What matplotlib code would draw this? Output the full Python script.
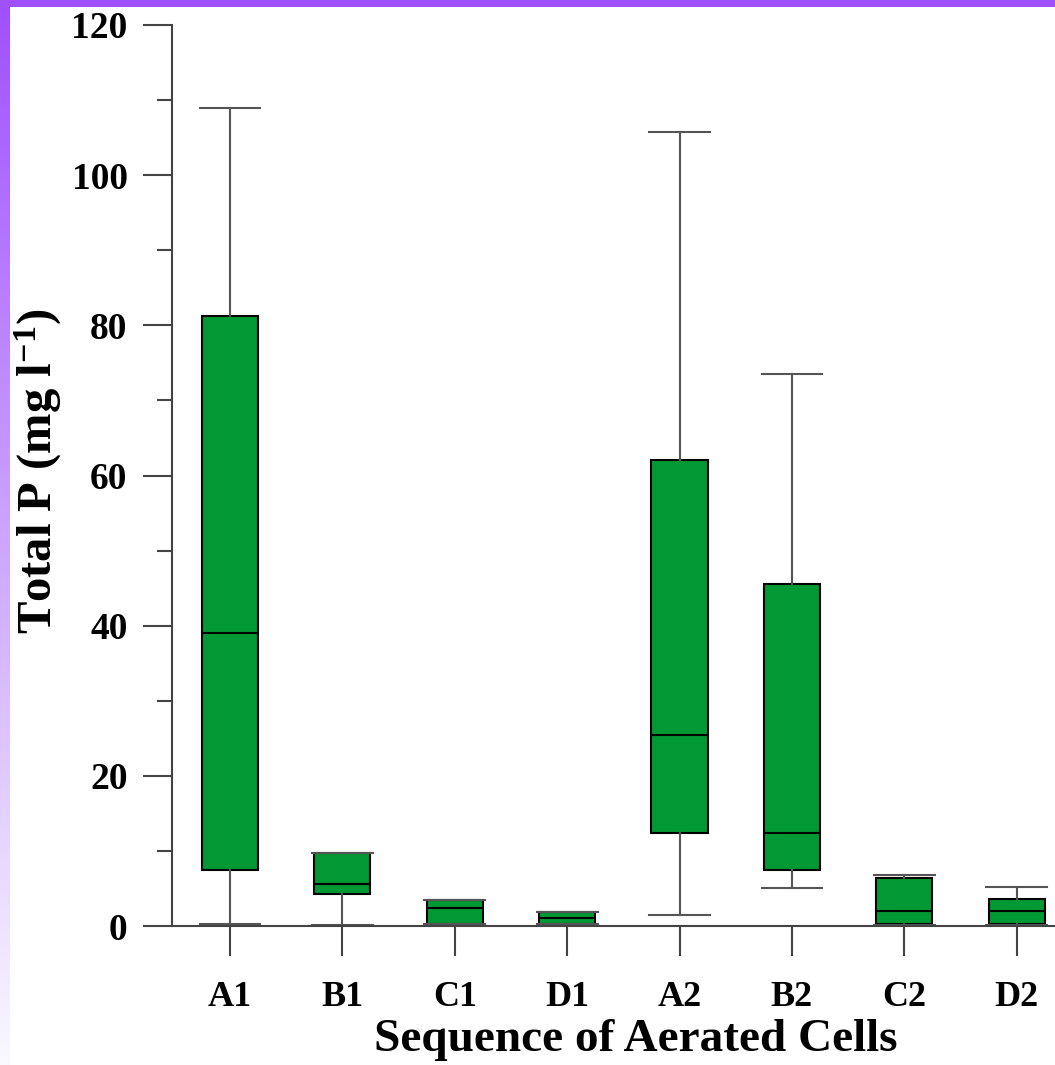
import numpy as np
import matplotlib
matplotlib.use("Agg")
import matplotlib.pyplot as plt

plt.rcParams['font.family'] = ['Liberation Serif', 'DejaVu Serif']
plt.rcParams['font.weight'] = 'bold'
plt.rcParams['mathtext.fontset'] = 'custom'
plt.rcParams['mathtext.rm'] = 'Liberation Serif:bold'
plt.rcParams['mathtext.default'] = 'rm'

# valores (mg/l)
cells = ["A1", "B1", "C1", "D1", "A2", "B2", "C2", "D2"]
whis_lo = [0.3, 0.1, 0.2, 0.2, 1.5, 5.0, 0.1, 0.1]
q1 = [7.4, 4.2, 0.3, 0.3, 12.4, 7.4, 0.2, 0.2]
med = [39.0, 5.6, 2.4, 1.0, 25.4, 12.4, 2.0, 2.0]
q3 = [81.2, 9.7, 3.5, 1.8, 62.1, 45.5, 6.4, 3.6]
whis_hi = [109.0, 9.7, 3.5, 1.8, 105.8, 73.5, 6.8, 5.2]

stats = []
for i in range(len(cells)):
    stats.append(dict(label=cells[i], whislo=whis_lo[i], q1=q1[i], med=med[i],
                      q3=q3[i], whishi=whis_hi[i], fliers=[]))

fig = plt.figure(figsize=(10.55, 10.65), dpi=100)

# moldura roxa
top = fig.add_axes([0, 1 - 7 / 1065, 1, 7 / 1065])
top.set_facecolor('#a050ff')
top.set_xticks([])
top.set_yticks([])
for s in top.spines.values():
    s.set_visible(False)

side = fig.add_axes([0, 0, 10 / 1055, 1])
c0 = np.array([160, 80, 255]) / 255
c1 = np.array([250, 248, 255]) / 255
t = np.linspace(0, 1, 256)[:, None]
grad = c0 + (c1 - c0) * t
side.imshow(grad[:, None, :], aspect='auto')
side.axis('off')

ax = fig.add_axes([172 / 1055, 139 / 1065, 1 - 172 / 1055, 901 / 1065])
positions = np.arange(1, len(cells) + 1)
ax.bxp(stats, positions=positions, widths=0.5, capwidths=0.54, patch_artist=True,
       showfliers=False,
       boxprops=dict(facecolor='#009933', edgecolor='black', linewidth=1.5),
       medianprops=dict(color='black', linewidth=1.5),
       whiskerprops=dict(color='#555555', linewidth=1.5),
       capprops=dict(color='#555555', linewidth=1.5))

ax.set_xlim(0.484, 8.34)
ax.set_ylim(0, 120)
ax.set_yticks(np.arange(0, 121, 20))
ax.set_yticks(np.arange(10, 120, 20), minor=True)
ax.set_xticks(positions)
ax.set_xticklabels(cells)

for s in ['top', 'right']:
    ax.spines[s].set_visible(False)
for s in ['left', 'bottom']:
    ax.spines[s].set_color('#444444')
    ax.spines[s].set_linewidth(1.5)

ax.tick_params(axis='y', which='major', direction='out', length=21, width=1.5,
               color='#444444', labelsize=27, pad=11)
ax.tick_params(axis='y', which='minor', direction='out', length=11, width=1.5,
               color='#444444')
ax.tick_params(axis='x', which='major', direction='out', length=21.5, width=1.5,
               color='#444444', labelsize=26, pad=18)

fig.text(38 / 1055, 1 - 471 / 1065, r'Total P (mg l$^{\mathregular{-1}}$)', fontsize=35,
         fontweight='bold', rotation=90, ha='center', va='center')
fig.text(636 / 1055, 1 - 1040 / 1065, 'Sequence of Aerated Cells', fontsize=34,
         fontweight='bold', ha='center', va='center')

fig.savefig('out.png', dpi=100)
